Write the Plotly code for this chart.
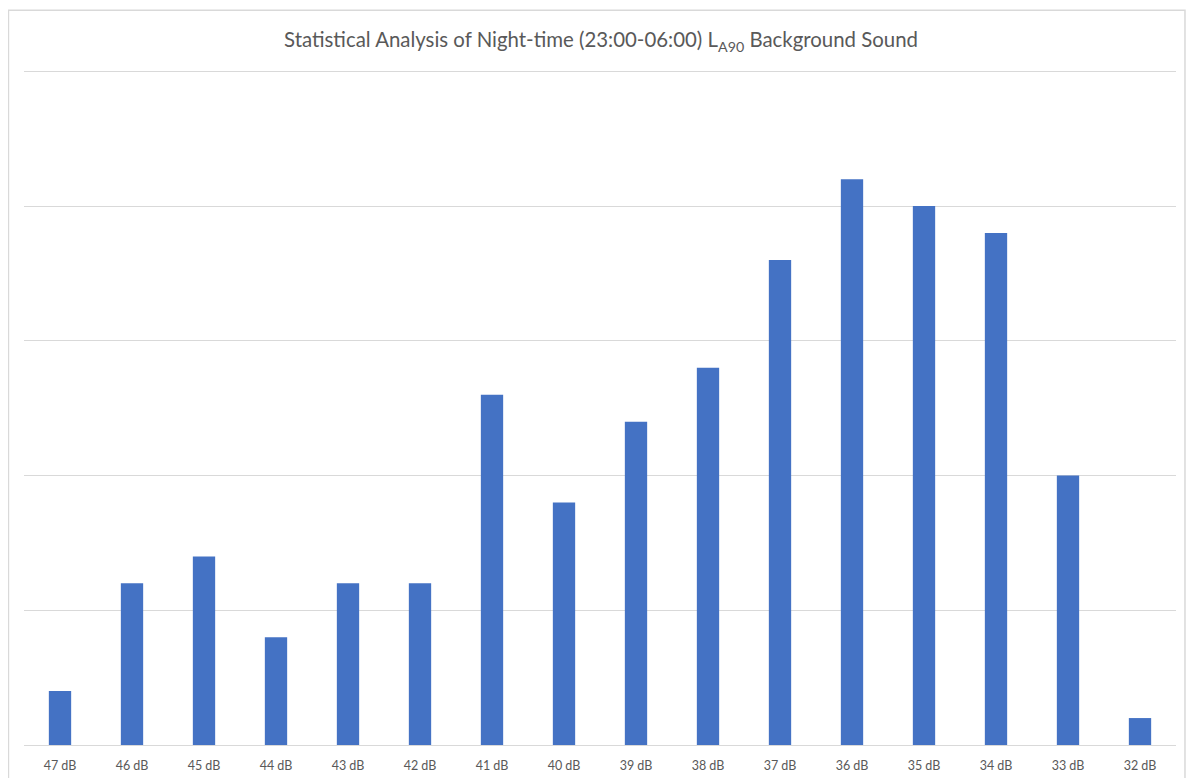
import plotly.graph_objects as go

# night-time LA90 levels and how many nights fell in each
levels = ["47 dB", "46 dB", "45 dB", "44 dB", "43 dB", "42 dB", "41 dB", "40 dB",
          "39 dB", "38 dB", "37 dB", "36 dB", "35 dB", "34 dB", "33 dB", "32 dB"]
counts = [2, 6, 7, 4, 6, 6, 13, 9, 12, 14, 18, 21, 20, 19, 10, 1]

fig = go.Figure()
fig.add_trace(go.Bar(x=levels, y=counts, marker=dict(color="#4472c4", line=dict(width=0))))

# light frame round the whole chart, like the spreadsheet export
fig.add_shape(type="rect", xref="paper", yref="paper",
              x0=-0.0135, x1=1.0078, y0=-0.08, y1=1.082,
              line=dict(color="#d9d9d9", width=1.5), layer="below")

# page body adds 8px, so the figure is a little smaller than the window;
# y range goes a hair past 25 so the top gridline is drawn
fig.update_layout(
    title=dict(text="Statistical Analysis of Night-time (23:00-06:00) L<sub>A90</sub> Background Sound",
               x=0.5, xanchor="center", y=0.958, yanchor="middle",
               font=dict(family="Lato", size=20.4, color="#595959")),
    width=1186, height=770,
    margin=dict(l=16, r=18, t=58, b=33),
    paper_bgcolor="white", plot_bgcolor="white",
    bargap=0.69,
    showlegend=False,
    xaxis=dict(showgrid=False, showline=True, linecolor="#d9d9d9", linewidth=1,
               ticks="", ticklabelstandoff=9, automargin=False,
               tickfont=dict(family="Lato", size=12.5, color="#595959")),
    yaxis=dict(range=[0, 25.2], dtick=5, showgrid=True, gridcolor="#d9d9d9", gridwidth=1,
               showticklabels=False, zeroline=False, showline=False, automargin=False),
)

fig.write_html("out.html")
